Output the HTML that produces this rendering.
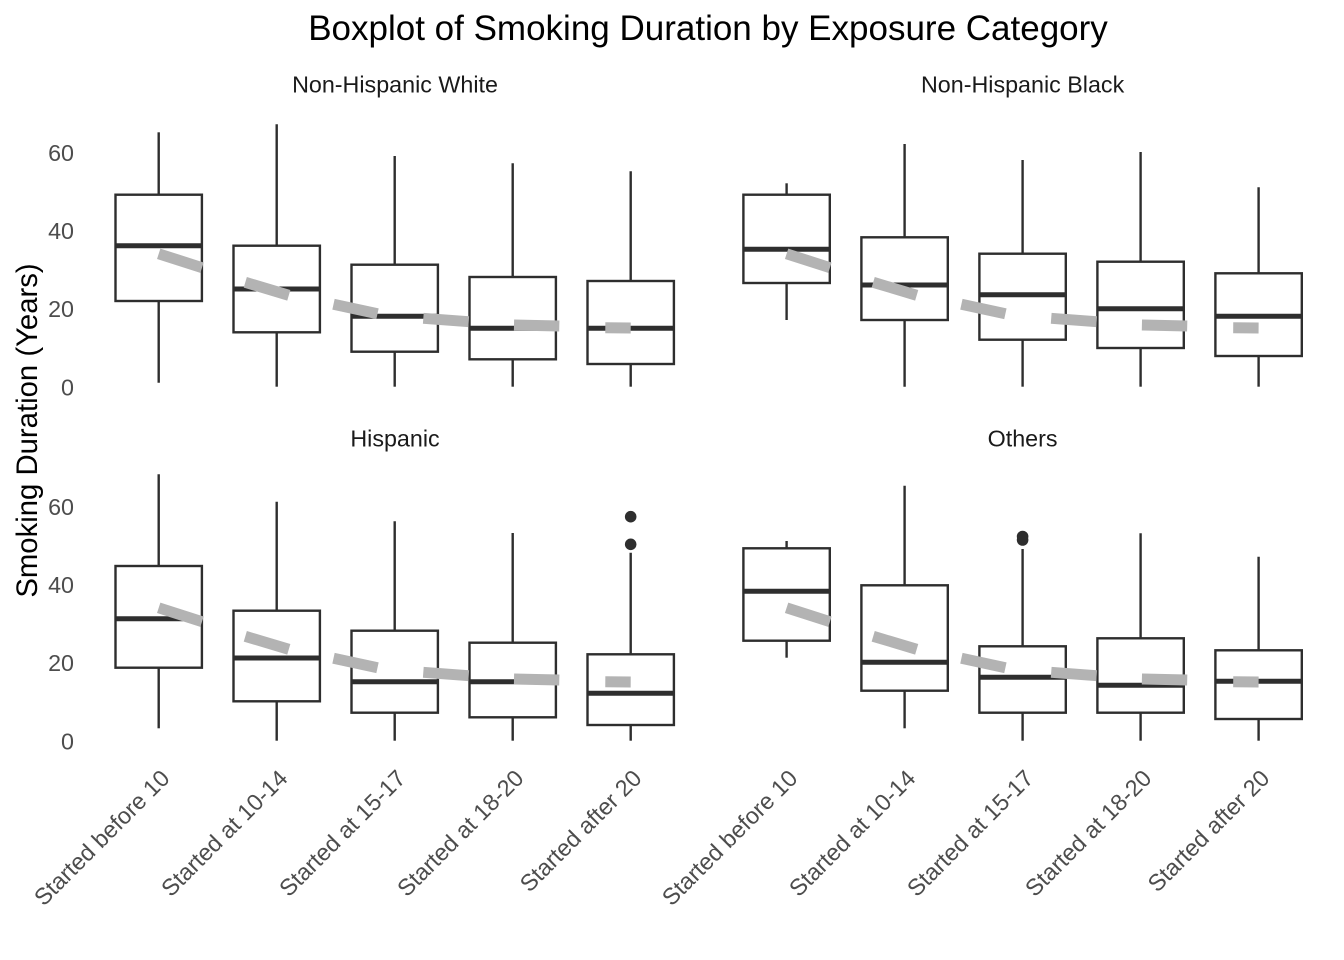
<!DOCTYPE html>
<html>
<head>
<meta charset="utf-8">
<style>
  html, body { margin: 0; padding: 0; background: #ffffff; }
  svg { display: block; }
  text { font-family: "Liberation Sans", Arial, sans-serif; }
</style>
</head>
<body>
<svg width="1344" height="960" viewBox="0 0 1344 960" xmlns="http://www.w3.org/2000/svg">
  <rect width="1344" height="960" fill="#ffffff"/>

  <!-- Title -->
  <text x="708" y="40" font-size="35" text-anchor="middle" fill="#000000">Boxplot of Smoking Duration by Exposure Category</text>

  <!-- Strip labels -->
  <g font-size="23.3" fill="#1a1a1a" text-anchor="middle">
    <text x="395" y="92.7">Non-Hispanic White</text>
    <text x="1022.6" y="92.7">Non-Hispanic Black</text>
    <text x="395" y="446.7">Hispanic</text>
    <text x="1022.6" y="446.7">Others</text>
  </g>

  <!-- Y axis title -->
  <text transform="translate(37,430.5) rotate(-90)" font-size="29.3" text-anchor="middle" fill="#000000">Smoking Duration (Years)</text>

  <!-- Y tick labels -->
  <g font-size="23.3" fill="#4d4d4d" text-anchor="end">
    <text x="74" y="395.3">0</text>
    <text x="74" y="317.2">20</text>
    <text x="74" y="239.1">40</text>
    <text x="74" y="161">60</text>
    <text x="74" y="749.3">0</text>
    <text x="74" y="671.2">20</text>
    <text x="74" y="593.1">40</text>
    <text x="74" y="515">60</text>
  </g>

  <!-- Boxes -->
  <g stroke="#2e2e2e" stroke-width="2.4" fill="#ffffff">
    <!-- Top-left: Non-Hispanic White -->
    <line x1="158.7" y1="132.3" x2="158.7" y2="194.7"/><line x1="158.7" y1="301" x2="158.7" y2="382.7"/>
    <rect x="115.5" y="194.7" width="86.4" height="106.3"/>
    <line x1="115.5" y1="245.7" x2="201.9" y2="245.7" stroke-width="5"/>

    <line x1="276.7" y1="124.3" x2="276.7" y2="245.7"/><line x1="276.7" y1="332.3" x2="276.7" y2="386.7"/>
    <rect x="233.5" y="245.7" width="86.4" height="86.6"/>
    <line x1="233.5" y1="289" x2="319.9" y2="289" stroke-width="5"/>

    <line x1="394.7" y1="156" x2="394.7" y2="264.7"/><line x1="394.7" y1="351.7" x2="394.7" y2="386.7"/>
    <rect x="351.5" y="264.7" width="86.4" height="87"/>
    <line x1="351.5" y1="316.3" x2="437.9" y2="316.3" stroke-width="5"/>

    <line x1="512.7" y1="163.3" x2="512.7" y2="277"/><line x1="512.7" y1="359.3" x2="512.7" y2="386.7"/>
    <rect x="469.5" y="277" width="86.4" height="82.3"/>
    <line x1="469.5" y1="328.3" x2="555.9" y2="328.3" stroke-width="5"/>

    <line x1="630.7" y1="171.3" x2="630.7" y2="281"/><line x1="630.7" y1="364" x2="630.7" y2="386.7"/>
    <rect x="587.5" y="281" width="86.4" height="83"/>
    <line x1="587.5" y1="328.3" x2="673.9" y2="328.3" stroke-width="5"/>

    <!-- Top-right: Non-Hispanic Black -->
    <line x1="786.6" y1="183.3" x2="786.6" y2="194.7"/><line x1="786.6" y1="283" x2="786.6" y2="320"/>
    <rect x="743.4" y="194.7" width="86.4" height="88.3"/>
    <line x1="743.4" y1="249.3" x2="829.8" y2="249.3" stroke-width="5"/>

    <line x1="904.6" y1="144" x2="904.6" y2="237.3"/><line x1="904.6" y1="320" x2="904.6" y2="386.7"/>
    <rect x="861.4" y="237.3" width="86.4" height="82.7"/>
    <line x1="861.4" y1="285" x2="947.8" y2="285" stroke-width="5"/>

    <line x1="1022.6" y1="160" x2="1022.6" y2="253.7"/><line x1="1022.6" y1="339.7" x2="1022.6" y2="386.7"/>
    <rect x="979.4" y="253.7" width="86.4" height="86"/>
    <line x1="979.4" y1="294.7" x2="1065.8" y2="294.7" stroke-width="5"/>

    <line x1="1140.6" y1="152" x2="1140.6" y2="261.7"/><line x1="1140.6" y1="348" x2="1140.6" y2="386.7"/>
    <rect x="1097.4" y="261.7" width="86.4" height="86.3"/>
    <line x1="1097.4" y1="308.7" x2="1183.8" y2="308.7" stroke-width="5"/>

    <line x1="1258.6" y1="187.3" x2="1258.6" y2="273.3"/><line x1="1258.6" y1="356" x2="1258.6" y2="386.7"/>
    <rect x="1215.4" y="273.3" width="86.4" height="82.7"/>
    <line x1="1215.4" y1="316.3" x2="1301.8" y2="316.3" stroke-width="5"/>

    <!-- Bottom-left: Hispanic -->
    <line x1="158.7" y1="474.3" x2="158.7" y2="566"/><line x1="158.7" y1="667.7" x2="158.7" y2="728.3"/>
    <rect x="115.5" y="566" width="86.4" height="101.7"/>
    <line x1="115.5" y1="618.7" x2="201.9" y2="618.7" stroke-width="5"/>

    <line x1="276.7" y1="501.7" x2="276.7" y2="610.7"/><line x1="276.7" y1="701.3" x2="276.7" y2="740.7"/>
    <rect x="233.5" y="610.7" width="86.4" height="90.6"/>
    <line x1="233.5" y1="658" x2="319.9" y2="658" stroke-width="5"/>

    <line x1="394.7" y1="521.3" x2="394.7" y2="630.7"/><line x1="394.7" y1="712.7" x2="394.7" y2="740.7"/>
    <rect x="351.5" y="630.7" width="86.4" height="82"/>
    <line x1="351.5" y1="681.7" x2="437.9" y2="681.7" stroke-width="5"/>

    <line x1="512.7" y1="533" x2="512.7" y2="642.7"/><line x1="512.7" y1="717.3" x2="512.7" y2="740.7"/>
    <rect x="469.5" y="642.7" width="86.4" height="74.6"/>
    <line x1="469.5" y1="681.7" x2="555.9" y2="681.7" stroke-width="5"/>

    <line x1="630.7" y1="552.7" x2="630.7" y2="654.3"/><line x1="630.7" y1="725" x2="630.7" y2="740.7"/>
    <rect x="587.5" y="654.3" width="86.4" height="70.7"/>
    <line x1="587.5" y1="693.3" x2="673.9" y2="693.3" stroke-width="5"/>

    <!-- Bottom-right: Others -->
    <line x1="786.6" y1="541" x2="786.6" y2="548.3"/><line x1="786.6" y1="640.7" x2="786.6" y2="657.7"/>
    <rect x="743.4" y="548.3" width="86.4" height="92.4"/>
    <line x1="743.4" y1="591.3" x2="829.8" y2="591.3" stroke-width="5"/>

    <line x1="904.6" y1="485.7" x2="904.6" y2="585.3"/><line x1="904.6" y1="690.7" x2="904.6" y2="728.3"/>
    <rect x="861.4" y="585.3" width="86.4" height="105.4"/>
    <line x1="861.4" y1="662.3" x2="947.8" y2="662.3" stroke-width="5"/>

    <line x1="1022.6" y1="549" x2="1022.6" y2="646.3"/><line x1="1022.6" y1="712.7" x2="1022.6" y2="740.7"/>
    <rect x="979.4" y="646.3" width="86.4" height="66.4"/>
    <line x1="979.4" y1="677.3" x2="1065.8" y2="677.3" stroke-width="5"/>

    <line x1="1140.6" y1="533.3" x2="1140.6" y2="638.3"/><line x1="1140.6" y1="712.7" x2="1140.6" y2="740.7"/>
    <rect x="1097.4" y="638.3" width="86.4" height="74.4"/>
    <line x1="1097.4" y1="685.3" x2="1183.8" y2="685.3" stroke-width="5"/>

    <line x1="1258.6" y1="556.7" x2="1258.6" y2="650.3"/><line x1="1258.6" y1="719" x2="1258.6" y2="740.7"/>
    <rect x="1215.4" y="650.3" width="86.4" height="68.7"/>
    <line x1="1215.4" y1="681.3" x2="1301.8" y2="681.3" stroke-width="5"/>
  </g>

  <!-- Outliers -->
  <g fill="#2e2e2e">
    <circle cx="630.7" cy="516.7" r="5.8"/>
    <circle cx="630.7" cy="544.3" r="5.8"/>
    <circle cx="1022.6" cy="536.5" r="5.8"/>
    <circle cx="1022.6" cy="540" r="5.8"/>
  </g>

  <!-- Grey dashed trend line (same in every panel) -->
  <g fill="none" stroke="#b3b3b3" stroke-width="11" stroke-linecap="butt">
    <path d="M158.7,253.8 L202,267.7 M245.3,282.3 L288.8,295.3 M333.5,304.2 L377.5,313.8 M423.3,318.3 L468.7,321.7 M514,325 L559.3,326 M605.3,327.8 L630.7,328"/>
    <path transform="translate(627.9,0)" d="M158.7,253.8 L202,267.7 M245.3,282.3 L288.8,295.3 M333.5,304.2 L377.5,313.8 M423.3,318.3 L468.7,321.7 M514,325 L559.3,326 M605.3,327.8 L630.7,328"/>
    <path transform="translate(0,354)" d="M158.7,253.8 L202,267.7 M245.3,282.3 L288.8,295.3 M333.5,304.2 L377.5,313.8 M423.3,318.3 L468.7,321.7 M514,325 L559.3,326 M605.3,327.8 L630.7,328"/>
    <path transform="translate(627.9,354)" d="M158.7,253.8 L202,267.7 M245.3,282.3 L288.8,295.3 M333.5,304.2 L377.5,313.8 M423.3,318.3 L468.7,321.7 M514,325 L559.3,326 M605.3,327.8 L630.7,328"/>
  </g>

  <!-- X tick labels (rotated 45°) -->
  <g font-size="23.3" fill="#4d4d4d" text-anchor="end">
    <text transform="translate(171,779.7) rotate(-45)">Started before 10</text>
    <text transform="translate(289,779.7) rotate(-45)">Started at 10-14</text>
    <text transform="translate(407,779.7) rotate(-45)">Started at 15-17</text>
    <text transform="translate(525,779.7) rotate(-45)">Started at 18-20</text>
    <text transform="translate(643,779.7) rotate(-45)">Started after 20</text>
    <text transform="translate(798.9,779.7) rotate(-45)">Started before 10</text>
    <text transform="translate(916.9,779.7) rotate(-45)">Started at 10-14</text>
    <text transform="translate(1034.9,779.7) rotate(-45)">Started at 15-17</text>
    <text transform="translate(1152.9,779.7) rotate(-45)">Started at 18-20</text>
    <text transform="translate(1270.9,779.7) rotate(-45)">Started after 20</text>
  </g>
</svg>
</body>
</html>
